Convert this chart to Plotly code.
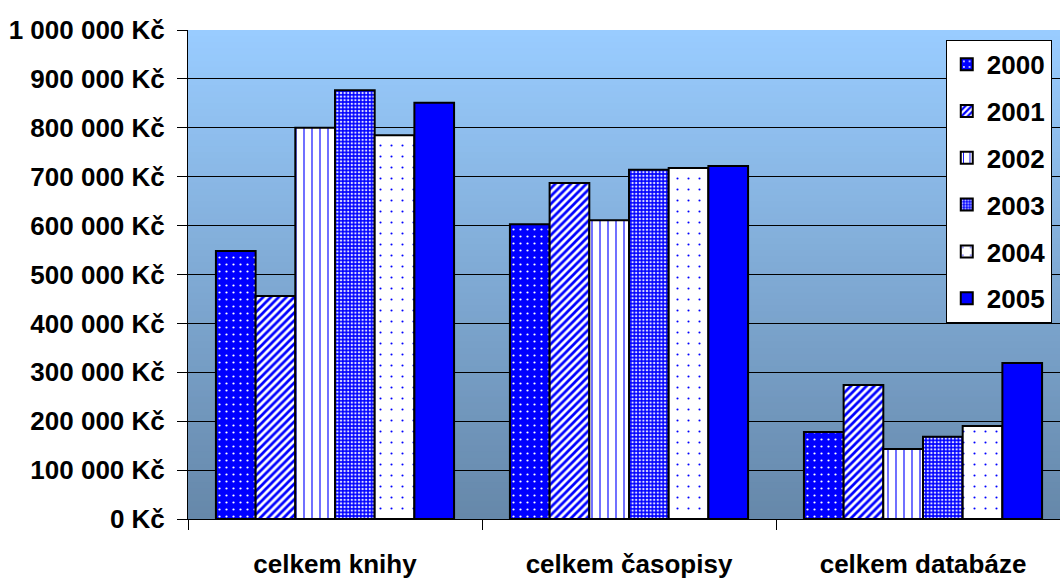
import plotly.graph_objects as go

categories = ["celkem knihy", "celkem časopisy", "celkem databáze"]
years = ["2000", "2001", "2002", "2003", "2004", "2005"]
values = {
    "2000": [548000, 603000, 178000],
    "2001": [456000, 687000, 274000],
    "2002": [800000, 611000, 143000],
    "2003": [877000, 714000, 168000],
    "2004": [785000, 718000, 190000],
    "2005": [851000, 722000, 319000],
}
tick_vals = [0, 100000, 200000, 300000, 400000, 500000, 600000, 700000, 800000, 900000, 1000000]
tick_text = ["0 Kč", "100 000 Kč", "200 000 Kč", "300 000 Kč", "400 000 Kč", "500 000 Kč",
             "600 000 Kč", "700 000 Kč", "800 000 Kč", "900 000 Kč", "1 000 000 Kč"]

BLUE = "#0000FF"
WHITE = "#FFFFFF"
styles = {
    "2000": dict(color=BLUE, pattern=dict(shape=".", fgcolor=WHITE, bgcolor=BLUE, size=7, solidity=0.08, fillmode="replace")),
    "2001": dict(color=WHITE, pattern=dict(shape="/", fgcolor=BLUE, bgcolor=WHITE, size=5.5, solidity=0.5, fillmode="replace")),
    "2002": dict(color=WHITE, pattern=dict(shape="|", fgcolor=BLUE, bgcolor=WHITE, size=8, solidity=0.14, fillmode="replace")),
    "2003": dict(color=BLUE, pattern=dict(shape=".", fgcolor="#E0E0FF", bgcolor=BLUE, size=3.6, solidity=0.35, fillmode="replace")),
    "2004": dict(color=WHITE, pattern=dict(shape=".", fgcolor=BLUE, bgcolor=WHITE, size=11, solidity=0.03, fillmode="replace")),
    "2005": dict(color=BLUE),
}

FONT = "Liberation Sans, Arial, sans-serif"
FS = 26

fig = go.Figure()
for i, y in enumerate(years):
    fig.add_trace(go.Bar(
        x=categories, y=values[y], name=y, legendgroup=y,
        marker=dict(**styles[y], line=dict(color="black", width=2)),
    ))

# vertical gradient background for the plot area (overlapping strips to avoid seams)
top = (153, 204, 255)
bot = (102, 136, 170)
N = 80
shapes = []
for k in range(N):
    t = k / (N - 1)
    c = tuple(round(bot[j] + (top[j] - bot[j]) * t) for j in range(3))
    shapes.append(dict(type="rect", xref="x domain", yref="y domain",
                       x0=0, x1=1, y0=k / N, y1=min(1.0, (k + 1) / N + 0.006),
                       fillcolor="rgb(%d,%d,%d)" % c, line=dict(width=0), layer="below"))

fig.update_layout(
    width=1060, height=579,
    margin=dict(l=188, r=0, t=30, b=60, autoexpand=False),
    paper_bgcolor="white", plot_bgcolor="rgba(0,0,0,0)",
    barmode="group", bargap=0.19, bargroupgap=0,
    font=dict(family=FONT, size=FS, color="black", weight="bold"),
    shapes=shapes,
    showlegend=True,
    legend=dict(x=0.869, y=0.98, xanchor="left", yanchor="top",
                bgcolor="white", bordercolor="black", borderwidth=1,
                font=dict(family=FONT, size=FS, color="black", weight="bold"),
                tracegroupgap=10, traceorder="grouped"),
)
fig.update_xaxes(range=[-0.5, 2.466], showline=True, linecolor="black", linewidth=1,
                 ticks="outside", ticklen=10, tickcolor="black", tickson="boundaries",
                 ticklabelstandoff=22, showgrid=False, mirror=False,
                 tickfont=dict(family=FONT, size=FS, color="black", weight="bold"))
fig.update_yaxes(range=[0, 1000000], tickvals=tick_vals, ticktext=tick_text,
                 showline=True, linecolor="black", linewidth=1,
                 ticks="outside", ticklen=10, tickcolor="black", ticklabelstandoff=7,
                 showgrid=True, gridcolor="black", gridwidth=1, zeroline=False,
                 tickfont=dict(family=FONT, size=FS, color="black", weight="bold"))

fig.write_html("out.html", config={"displayModeBar": False},
               post_script="document.body.style.margin='0';document.body.style.overflow='hidden';")
